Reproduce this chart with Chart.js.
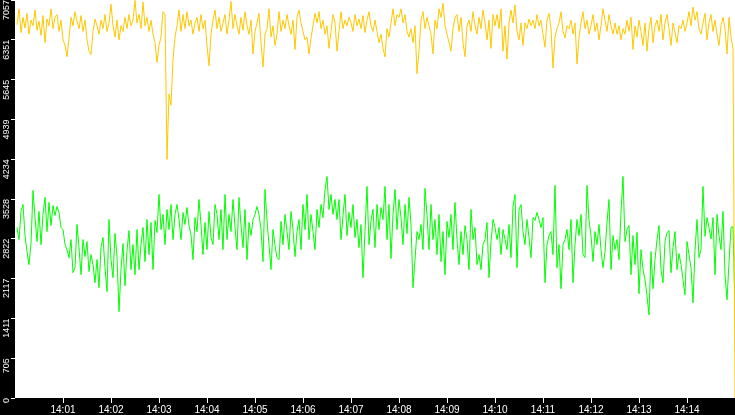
<!DOCTYPE html>
<html>
<head>
<meta charset="utf-8">
<script src="https://cdn.jsdelivr.net/npm/chart.js@4.4.1/dist/chart.umd.min.js"></script>
<style>
html, body { margin: 0; padding: 0; background: #000; }
#wrap { width: 735px; height: 415px; }
</style>
</head>
<body>
<div id="wrap"><canvas id="grafico" width="735" height="415"></canvas></div>
<script>
// one sample every 2.5 s, 14:00 -> 14:15
const yellowValues = [
    6620, 6900, 6480, 6750, 6560, 6820, 6450, 6700, 6600, 6880, 6520, 6680, 6430, 6780, 6300, 6720, 6600, 6900, 6550, 6750,
    6800, 6500, 6700, 6350, 6260, 6050, 6380, 6750, 6600, 6850, 6680, 6550, 6780, 6500, 6700, 6350, 6150, 6090, 6500, 6720,
    6600, 6450, 6700, 6550, 6800, 6500, 6650, 6980, 6600, 6400, 6700, 6350, 6600, 6500, 6750, 6550, 6800, 6600, 6700, 7050,
    6650, 6800, 6550, 7020, 6600, 6750, 6500, 6700, 6450, 6300, 5950, 6250, 6400, 6850, 6800, 4230, 5390, 5190, 6000, 6400,
    6600, 6880, 6500, 6800, 6550, 6850, 6600, 6700, 6450, 6650, 6750, 6500, 6800, 6550, 6700, 6250, 5890, 6450, 6700, 6880,
    6550, 6750, 6500, 6650, 6800, 6450, 6700, 7030, 6550, 6800, 6600, 6450, 6750, 6520, 6850, 6600, 6450, 6700, 6100, 6500,
    6650, 6820, 6300, 5870, 6450, 6550, 6900, 6400, 6600, 6250, 6450, 6850, 6500, 6700, 6550, 6800, 6600, 6450, 6700, 6180,
    6750, 6880, 6650, 6500, 6350, 6400, 6100, 6380, 6600, 6820, 6650, 6850, 6550, 6700, 6450, 6600, 6200, 6500, 6800, 6650,
    6150, 6500, 6850, 6550, 6700, 6600, 6750, 6650, 6500, 6800, 6600, 6720, 6550, 6780, 6480, 6700, 6850, 6600, 6500, 6700,
    6500, 6300, 6450, 6200, 6050, 6550, 6400, 6650, 6900, 6600, 6800, 6750, 6900, 6650, 6800, 6500, 6400, 6550, 6300, 6600,
    5750, 6150, 6700, 6850, 6550, 6750, 6600, 6450, 6100, 6700, 6550, 6900, 6750, 7000, 6600, 6450, 6300, 6150, 6550, 6750,
    6800, 6500, 6750, 6300, 6050, 6600, 6700, 6500, 6850, 6600, 6450, 6750, 6550, 6880, 6650, 6350, 6700, 6200, 6800, 6600,
    6800, 6550, 6900, 6150, 6600, 6010, 6650, 6880, 6650, 6970, 6500, 6350, 6650, 6250, 6650, 6550, 6720, 6600, 6700, 6550,
    6800, 6600, 6700, 6450, 6220, 6700, 6820, 6550, 5850, 6400, 6550, 6650, 6850, 6500, 6380, 6600, 6550, 6700, 6450, 6650,
    5920, 6400, 6650, 6850, 6550, 6700, 6450, 6600, 6800, 6500, 6650, 6350, 6600, 6900, 6700, 6500, 6800, 6600, 6450, 6650,
    6450, 6600, 6350, 6550, 6450, 6700, 6500, 6750, 6180, 6600, 6400, 6700, 6500, 6250, 6650, 6150, 6550, 6750, 6300, 6600,
    6700, 6500, 6800, 6350, 6650, 6800, 6550, 6250, 6650, 6480, 6300, 6600, 6550, 6700, 6500, 6650, 6850, 6600, 6930, 6700,
    6850, 6550, 6450, 6650, 6820, 6350, 6650, 6800, 6500, 6700, 6450, 6250, 6600, 6750, 6550, 6100, 6750, 6400, 6200, 0
];

const greenValues = [
    3023, 2809, 3307, 3431, 2880, 2596, 2365, 2738, 3680, 3200, 2774, 3307, 2720, 3254, 3556, 2951, 3467, 3058, 3414, 3236,
    3396, 3290, 3023, 2987, 2720, 2631, 2489, 2809, 2222, 2311, 3076, 2667, 2187, 2809, 2507, 2774, 2240, 2543, 2365, 2045,
    2454, 1956, 2667, 2845, 2311, 1885, 3165, 2454, 2134, 2916, 2507, 1530, 2276, 2738, 1991, 2614, 2969, 2276, 2720, 2187,
    2987, 2276, 2720, 3023, 2418, 3165, 2543, 3112, 2276, 3147, 2934, 3609, 2987, 3254, 2720, 3343, 2987, 3431, 2809, 3254,
    3431, 3165, 2809, 3290, 3076, 3378, 3058, 2898, 2454, 3200, 2951, 3520, 3076, 2543, 3112, 2631, 3307, 2845, 2720, 3431,
    3254, 2809, 3343, 2631, 3609, 2809, 3254, 2951, 3520, 3023, 2631, 3556, 3058, 2667, 3343, 2454, 3112, 2880, 3165, 3254,
    3396, 3254, 2987, 2418, 3698, 3147, 2720, 2276, 2987, 2702, 2489, 2454, 3130, 2720, 3254, 2951, 2631, 3307, 2987, 2507,
    2951, 3165, 2631, 3431, 2987, 3609, 2809, 3254, 2951, 2631, 3343, 3023, 3431, 3200, 3698, 3929, 3343, 3609, 3254, 3520,
    3165, 3520, 2809, 3236, 3609, 2880, 3290, 3023, 3431, 2845, 3165, 2667, 3076, 2134, 2951, 3751, 2720, 3147, 3343, 2667,
    3431, 2987, 3378, 3165, 3751, 2809, 3431, 2474, 3254, 3698, 2987, 3520, 3200, 2720, 3431, 2916, 3556, 3076, 1956, 2454,
    2951, 2809, 3076, 2631, 3716, 3236, 2631, 3431, 2809, 3165, 2543, 3254, 2418, 2951, 2187, 3130, 2845, 3254, 2631, 3467,
    2809, 2365, 2951, 2543, 3058, 2809, 2276, 3343, 2809, 3023, 2365, 2543, 2276, 2720, 2809, 3112, 2134, 2774, 3165, 3023,
    2809, 3023, 2543, 2987, 2809, 2631, 3076, 2489, 3396, 3609, 2311, 3343, 3431, 2951, 2720, 3165, 2845, 2489, 3200, 3147,
    3290, 3165, 3023, 3200, 2045, 2720, 2880, 2951, 2543, 3769, 2311, 2720, 1938, 2720, 2809, 2987, 2631, 3165, 2045, 2720,
    3165, 2880, 3254, 2543, 2489, 3769, 3147, 2880, 2418, 2951, 2720, 3076, 2631, 2311, 2595, 3112, 3520, 2276, 2880, 2631,
    2809, 2454, 3290, 3929, 2774, 2987, 3058, 2187, 2880, 2365, 2934, 1849, 2631, 2276, 2098, 1813, 1476, 2596, 1938, 2454,
    2809, 3058, 2276, 2045, 2774, 2934, 2969, 2222, 2667, 2951, 2276, 2560, 2365, 2098, 1831, 2774, 2543, 2311, 1689, 2614,
    3165, 2489, 2634, 3751, 2867, 3200, 3023, 2820, 3200, 2187, 3254, 2880, 2631, 3307, 2187, 1742, 2400, 3023, 3040, 1565
];

const xTickLabels = ['14:01', '14:02', '14:03', '14:04', '14:05', '14:06', '14:07', '14:08', '14:09', '14:10', '14:11', '14:12', '14:13', '14:14'];
const yTickLabels = [0, 705, 1411, 2117, 2822, 3528, 4234, 4939, 5645, 6351, 7057];

const pasoSegundos = 2.5;
const duracionSegundos = 900;

const fondo = {
    id: 'fondo',
    beforeDraw(chart) {
        const { ctx, chartArea: a } = chart;
        ctx.save();
        ctx.fillStyle = '#000';
        ctx.fillRect(0, 0, chart.width, chart.height);
        ctx.fillStyle = '#fff';
        ctx.fillRect(a.left, a.top, a.right - a.left, a.bottom - a.top);
        ctx.restore();
    }
};

function serie(valores) {
    return valores.map((v, i) => ({ x: (i + 1) * pasoSegundos, y: v }));
}

function sinRelleno(s) {
    s.paddingTop = 0; s.paddingBottom = 0; s.paddingLeft = 0; s.paddingRight = 0;
}

function initGrafico() {
    new Chart(document.getElementById('grafico'), {
        type: 'line',
        data: {
            datasets: [
                { data: serie(yellowValues), borderColor: '#ffc800', borderWidth: 1, pointRadius: 0, tension: 0 },
                { data: serie(greenValues), borderColor: '#00ff00', borderWidth: 1, pointRadius: 0, tension: 0 }
            ]
        },
        options: {
            responsive: false,
            animation: false,
            events: [],
            layout: { padding: 0 },
            plugins: { legend: { display: false }, tooltip: { enabled: false } },
            scales: {
                x: {
                    type: 'linear', min: 0, max: duracionSegundos,
                    afterBuildTicks: s => { s.ticks = xTickLabels.map((t, i) => ({ value: (i + 1) * 60 })); },
                    afterFit: s => { s.height = 17; sinRelleno(s); },
                    ticks: {
                        color: '#fff', font: { family: 'Liberation Sans', size: 10 }, padding: 1,
                        minRotation: 0, maxRotation: 0, autoSkip: false,
                        callback: (v, i) => xTickLabels[i]
                    },
                    grid: { drawOnChartArea: false, color: '#fff', tickLength: 5 },
                    border: { display: false }
                },
                y: {
                    min: 0, max: yTickLabels[yTickLabels.length - 1],
                    afterBuildTicks: s => { s.ticks = yTickLabels.map(v => ({ value: v })); },
                    afterFit: s => { s.width = 15; sinRelleno(s); },
                    ticks: {
                        color: '#fff', font: { family: 'Liberation Sans', size: 9 }, padding: 4,
                        minRotation: 90, maxRotation: 90,
                        callback: v => String(v)
                    },
                    grid: { drawOnChartArea: false, color: '#fff', tickLength: 4 },
                    border: { display: false }
                }
            }
        },
        plugins: [fondo]
    });
}

window.onload = initGrafico;
</script>
</body>
</html>
